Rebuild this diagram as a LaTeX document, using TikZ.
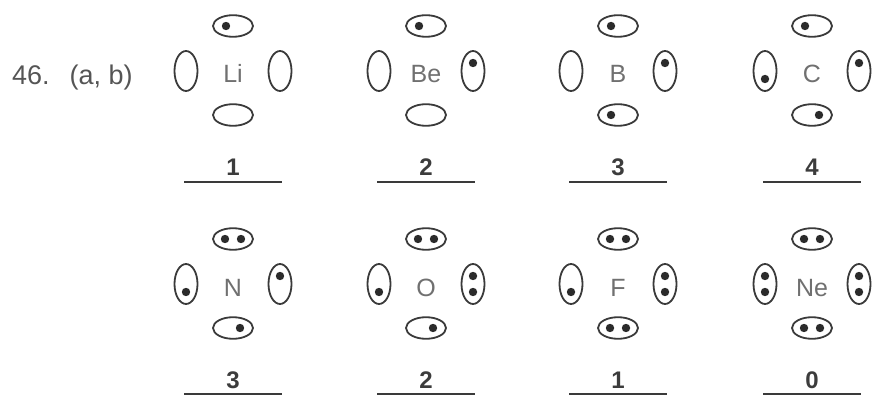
\documentclass[tikz,border=0pt]{standalone}
\usepackage{fontspec}
\setmainfont{Liberation Sans}
\definecolor{inkc}{HTML}{3A3A3A}
\definecolor{dotk}{HTML}{2B2B2B}
\definecolor{symk}{HTML}{707070}
\definecolor{labk}{HTML}{555555}
\definecolor{numk}{HTML}{3C3C3C}
\tikzset{
  orb/.style={draw=inkc, line width=1.8pt},
  dotc/.style={fill=dotk},
  symb/.style={text=symk, font=\fontsize{25}{28}\selectfont, inner sep=0pt, anchor=base},
  numb/.style={text=numk, font=\bfseries\fontsize{24}{28}\selectfont, inner sep=0pt, anchor=base},
  uline/.style={draw=inkc, line width=2pt},
  lab/.style={text=labk, font=\fontsize{27}{30}\selectfont, inner sep=0pt, anchor=base west}
}
% horizontal orbital: x y code (0 empty, 1 dot left, 2 dot right, 3 pair)
\newcommand\orbh[3]{%
  \draw[orb] (#1,#2) ellipse [x radius=20pt, y radius=10.8pt];
  \ifcase#3\or
    \fill[dotc] (#1-7,#2) circle [radius=4.2pt];\or
    \fill[dotc] (#1+7,#2) circle [radius=4.2pt];\or
    \fill[dotc] (#1-8,#2) circle [radius=4.2pt];
    \fill[dotc] (#1+8,#2) circle [radius=4.2pt];\fi}
% vertical orbital: x y code (0 empty, 1 dot top, 2 dot bottom, 3 pair)
\newcommand\orbv[3]{%
  \draw[orb] (#1,#2) ellipse [x radius=11.5pt, y radius=20pt];
  \ifcase#3\or
    \fill[dotc] (#1,#2-8) circle [radius=4.2pt];\or
    \fill[dotc] (#1,#2+8) circle [radius=4.2pt];\or
    \fill[dotc] (#1,#2-8) circle [radius=4.2pt];
    \fill[dotc] (#1,#2+8) circle [radius=4.2pt];\fi}
% atom: cx cy symbol top left right bottom number liney
\newcommand\atom[9]{%
  \node[symb] (sym-#3) at (#1,#2+12) {#3};
  \orbh{#1}{#2-45}{#4}
  \orbv{#1-47}{#2}{#5}
  \orbv{#1+47}{#2}{#6}
  \orbh{#1}{#2+44}{#7}
  \node[numb] (num-#3) at (#1,#2+104.5) {#8};
  \coordinate (ul-#3) at (#1-49,#9);
  \coordinate (ur-#3) at (#1+49,#9);
  \draw[uline] (ul-#3) -- (ur-#3);}
\begin{document}
\begin{tikzpicture}[x=1pt,y=-1pt]
\useasboundingbox (0,0) rectangle (872,395);
\node[lab] (label) at (12,85) {46.\hspace{20pt}(a, b)};
\atom{233}{71}{Li}{1}{0}{0}{0}{1}{182.5}
\atom{426}{71}{Be}{1}{0}{1}{0}{2}{182.5}
\atom{618}{71}{B}{1}{0}{1}{1}{3}{182.5}
\atom{812}{71}{C}{1}{2}{1}{2}{4}{182.5}
\atom{233}{284}{N}{3}{2}{1}{2}{3}{394.2}
\atom{426}{284}{O}{3}{2}{3}{2}{2}{394.2}
\atom{618}{284}{F}{3}{2}{3}{3}{1}{394.2}
\atom{812}{284}{Ne}{3}{3}{3}{3}{0}{394.2}
\end{tikzpicture}
\end{document}
